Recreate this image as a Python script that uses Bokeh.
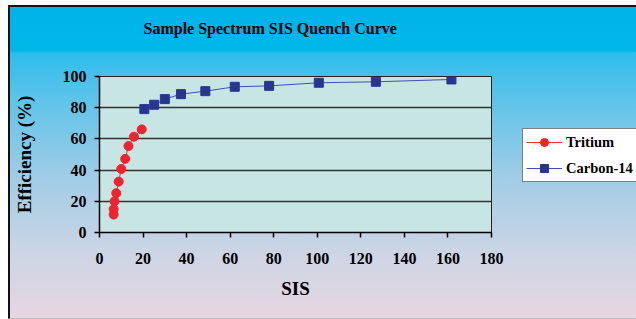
from bokeh.plotting import figure
from bokeh.models import Legend, LegendItem, FixedTicker, Range1d, Title
from bokeh.embed import file_html
from bokeh.resources import INLINE

title_text = "Sample Spectrum SIS Quench Curve"
x_label = "SIS"
y_label = "Efficiency (%)"

tritium_sis = [6.5, 6.5, 6.9, 7.7, 8.8, 10.0, 11.8, 13.3, 15.8, 19.4]
tritium_eff = [11.5, 15.0, 20.0, 25.2, 32.6, 40.7, 47.2, 55.4, 61.4, 66.1]

carbon_sis = [20.6, 25.1, 30.0, 37.4, 48.6, 62.1, 77.9, 100.7, 126.9, 161.6]
carbon_eff = [79.1, 81.9, 85.5, 88.7, 90.6, 93.4, 94.0, 96.0, 96.6, 98.1]

x_ticks = [0, 20, 40, 60, 80, 100, 120, 140, 160, 180]
y_ticks = [0, 20, 40, 60, 80, 100]

FONT = "Liberation Serif"

W, H = 626, 311
BL, BT, FW, FH = 89, 69, 392, 156
p = figure(width=W, height=H, output_backend="svg", toolbar_location=None,
           x_range=Range1d(0, 180), y_range=Range1d(0, 100),
           min_border_left=BL, min_border_right=W - BL - FW,
           min_border_top=BT, min_border_bottom=H - BT - FH)
p.frame_width = FW
p.frame_height = FH
p.title = None

p.border_fill_alpha = 0
p.styles = {
    "background": "linear-gradient(to bottom, #00B3E9 0px, #00B7EA 44px, #2DBDEC 46px, #5CC3EA 90px, #A0CCE6 170px, #CFD5E4 250px, #E6D6E0 311px)",
    "border-left": "2px solid #111111",
    "border-top": "2px solid #111111",
    "border-bottom": "1px solid #BBBBBB",
    "margin-left": "8px",
    "margin-top": "5px",
}
p.background_fill_color = "#C7E5E2"
p.outline_line_color = "#222222"
p.outline_line_width = 1

# spacer between frame and title, then the title itself
p.add_layout(Title(text=" ", text_font_size="1px", standoff=37), "above")
p.add_layout(Title(text=title_text, align="left", offset=44, standoff=0,
                   text_font=FONT, text_font_style="bold", text_font_size="16px",
                   text_color="black"), "above")

p.xgrid.grid_line_color = None
p.ygrid.grid_line_color = "#333333"
p.ygrid.grid_line_width = 1.5

p.xaxis.ticker = FixedTicker(ticks=x_ticks)
p.yaxis.ticker = FixedTicker(ticks=y_ticks)
for ax in (p.xaxis[0], p.yaxis[0]):
    ax.axis_line_color = "black"
    ax.axis_line_width = 1.5
    ax.major_tick_line_color = "black"
    ax.major_tick_line_width = 1.5
    ax.major_tick_in = 0
    ax.major_tick_out = 5
    ax.minor_tick_line_color = None
    ax.major_label_text_font = FONT
    ax.major_label_text_font_style = "bold"
    ax.major_label_text_font_size = "16px"
    ax.major_label_text_color = "black"
    ax.axis_label_text_font = FONT
    ax.axis_label_text_font_style = "bold"
    ax.axis_label_text_font_size = "19px"
    ax.axis_label_text_color = "black"

p.xaxis.axis_label = x_label
p.yaxis.axis_label = y_label
p.xaxis.major_label_standoff = 15
p.xaxis.axis_label_standoff = 11
p.yaxis.major_label_standoff = 8
p.yaxis.axis_label_standoff = 25

r_t_line = p.line(tritium_sis, tritium_eff, line_color="#F03038", line_width=1)
r_t_pts = p.scatter(tritium_sis, tritium_eff, marker="circle", size=9,
                    fill_color="#F0222E", line_color="#F0222E")
r_c_line = p.line(carbon_sis, carbon_eff, line_color="#4050B0", line_width=1)
r_c_pts = p.scatter(carbon_sis, carbon_eff, marker="square", size=9,
                    fill_color="#283592", line_color="#283592")

legend = Legend(items=[
    LegendItem(label="Tritium", renderers=[r_t_line, r_t_pts]),
    LegendItem(label="Carbon-14", renderers=[r_c_line, r_c_pts]),
], location=(31, 50))
legend.label_text_font = FONT
legend.label_text_font_style = "bold"
legend.label_text_font_size = "14.5px"
legend.label_text_color = "black"
legend.border_line_color = "black"
legend.border_line_width = 1
legend.background_fill_color = "white"
legend.background_fill_alpha = 1
legend.glyph_width = 36
legend.glyph_height = 20
legend.label_height = 20
legend.spacing = 6
legend.padding = 3
legend.margin = 0
legend.label_standoff = 4
p.add_layout(legend, "right")

open("out.html", "w").write(file_html(p, INLINE))
